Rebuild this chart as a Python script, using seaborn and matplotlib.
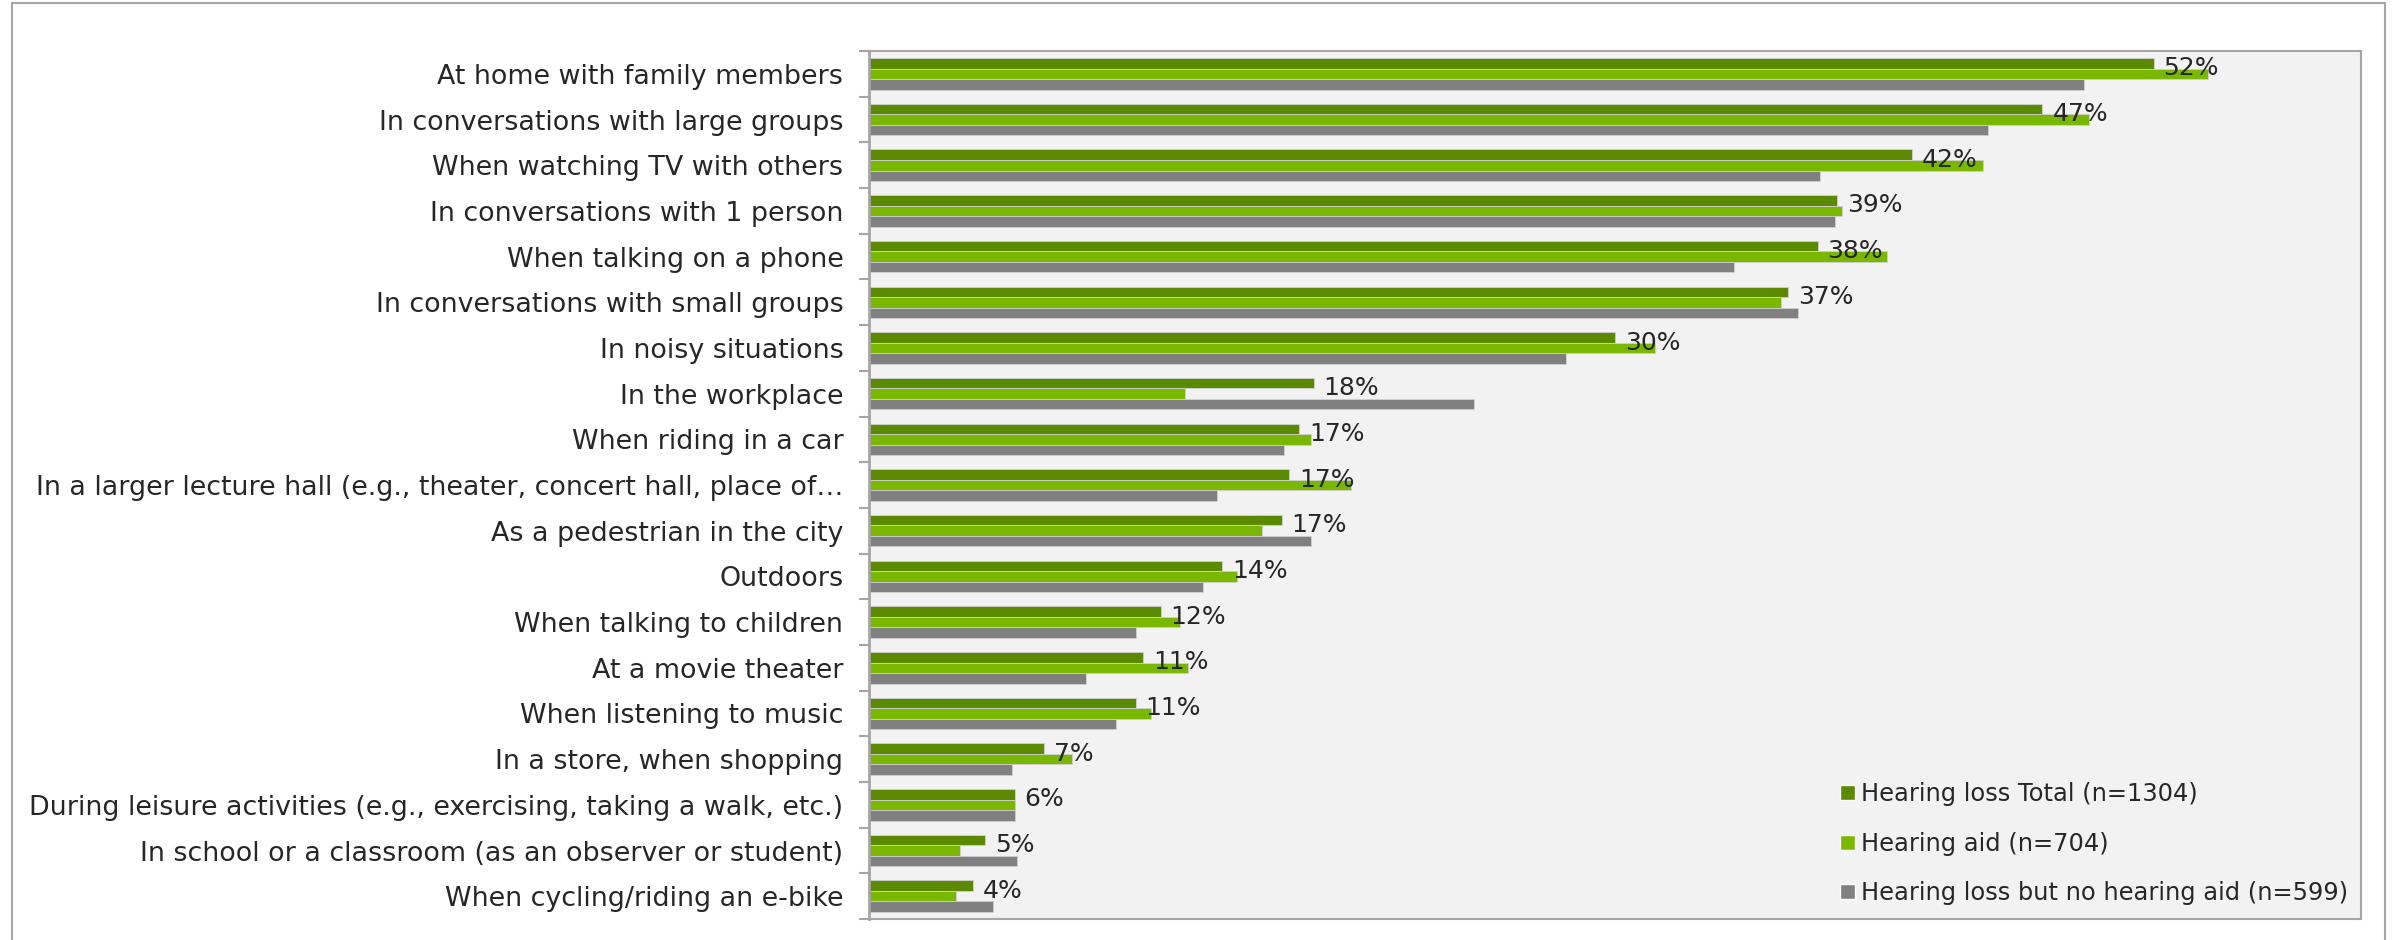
import matplotlib
matplotlib.use("Agg")
import matplotlib.pyplot as plt
from matplotlib.patches import Rectangle
import numpy as np
import pandas as pd
import seaborn as sns

categories = [
    "At home with family members",
    "In conversations with large groups",
    "When watching TV with others",
    "In conversations with 1 person",
    "When talking on a phone",
    "In conversations with small groups",
    "In noisy situations",
    "In the workplace",
    "When riding in a car",
    "In a larger lecture hall (e.g., theater, concert hall, place of\u2026",
    "As a pedestrian in the city",
    "Outdoors",
    "When talking to children",
    "At a movie theater",
    "When listening to music",
    "In a store, when shopping",
    "During leisure activities (e.g., exercising, taking a walk, etc.)",
    "In school or a classroom (as an observer or student)",
    "When cycling/riding an e-bike",
]

series = [
    "Hearing loss Total (n=1304)",
    "Hearing aid (n=704)",
    "Hearing loss but no hearing aid (n=599)",
]

total = [52.0, 47.5, 42.2, 39.2, 38.4, 37.2, 30.2, 18.0, 17.4, 17.0, 16.7,
         14.3, 11.8, 11.1, 10.8, 7.1, 5.9, 4.7, 4.2]
aid = [54.2, 49.4, 45.1, 39.4, 41.2, 36.9, 31.8, 12.8, 17.9, 19.5, 15.9,
       14.9, 12.6, 12.9, 11.4, 8.2, 5.9, 3.7, 3.5]
no_aid = [49.2, 45.3, 38.5, 39.1, 35.0, 37.6, 28.2, 24.5, 16.8, 14.1, 17.9,
          13.5, 10.8, 8.8, 10.0, 5.8, 5.9, 6.0, 5.0]
value_labels = ["52%", "47%", "42%", "39%", "38%", "37%", "30%", "18%", "17%",
                "17%", "17%", "14%", "12%", "11%", "11%", "7%", "6%", "5%", "4%"]

colors = ["#5B8A00", "#7AB800", "#808080"]

df = pd.DataFrame({
    "situation": categories * 3,
    "group": [series[0]] * len(categories) + [series[1]] * len(categories)
             + [series[2]] * len(categories),
    "value": total + aid + no_aid,
})

sns.set_theme(style="white")
plt.rcParams["font.family"] = ["DejaVu Sans"]

fig = plt.figure(figsize=(24.02, 9.40), dpi=100)
ax = fig.add_axes([0.3618, 0.0223, 0.6212, 0.9234])
ax.set_facecolor("#F2F2F2")

sns.barplot(data=df, y="situation", x="value", hue="group", order=categories,
            hue_order=series, palette=colors, orient="h", width=0.69,
            edgecolor="#D0D0D0", linewidth=0.6, saturation=1, ax=ax,
            legend=False)

ax.set_xlim(0, 60.4)
ax.set_ylim(len(categories) - 0.5, -0.5)
ax.set_xlabel("")
ax.set_ylabel("")
ax.set_xticks([])

# category labels, tick marks between categories
ax.set_yticks(np.arange(len(categories)))
ax.set_yticklabels(categories, fontsize=19.4, color="#262626")
ax.tick_params(axis="y", which="major", length=0, pad=18.5)
ax.set_yticks(np.arange(-0.5, len(categories), 1), minor=True)
ax.tick_params(axis="y", which="minor", length=7, width=1.5, color="#A6A6A6",
               direction="out", left=True)

for side in ["top", "right", "bottom"]:
    ax.spines[side].set_color("#A6A6A6")
    ax.spines[side].set_linewidth(1.5)
ax.spines["left"].set_color("#A6A6A6")
ax.spines["left"].set_linewidth(2)

# data labels next to the total bar
for i, (v, lab) in enumerate(zip(total, value_labels)):
    ax.text(v + 0.4, i - 0.12, lab, fontsize=18, color="#262626",
            va="center", ha="left")

handles = [Rectangle((0, 0), 1, 1, facecolor=c) for c in colors]
fig.legend(handles, series, loc="lower left", bbox_to_anchor=(0.757, 0.014),
           frameon=False, fontsize=17.4, handlelength=0.6, handleheight=0.6,
           handletextpad=0.25, labelspacing=1.05, labelcolor="#262626")

fig.patches.append(Rectangle((0.005, -0.01), 0.988, 1.007, transform=fig.transFigure,
                             fill=False, edgecolor="#A6A6A6", linewidth=1.5))

fig.savefig("out.png", dpi=100)
